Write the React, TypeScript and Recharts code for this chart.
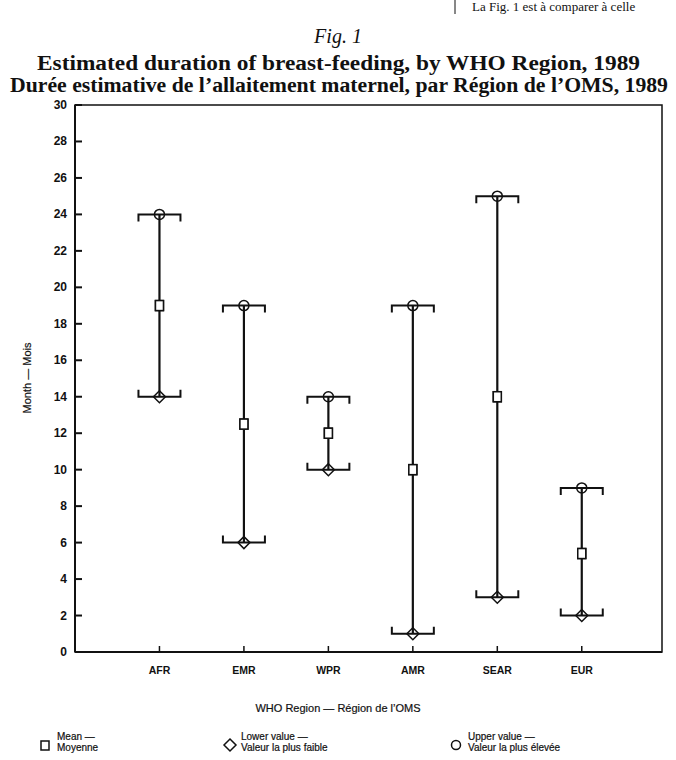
import React from "react";
import { ComposedChart, Scatter, XAxis, YAxis, ErrorBar, ReferenceArea } from "recharts";

const regions = ["AFR", "EMR", "WPR", "AMR", "SEAR", "EUR"];
const meanValues = [19, 12.5, 12, 10, 14, 5.4];
const lowerValues = [14, 6, 10, 1, 3, 2];
const upperValues = [24, 19, 14, 19, 25, 9];
const yTicks = [0, 2, 4, 6, 8, 10, 12, 14, 16, 18, 20, 22, 24, 26, 28, 30];

const rows = regions.map((region, i) => ({
  x: i + 1,
  region,
  mean: meanValues[i],
  lower: lowerValues[i],
  upper: upperValues[i],
  range: [meanValues[i] - lowerValues[i], upperValues[i] - meanValues[i]],
}));

const ink = "#111";
const sans = "'Liberation Sans', Arial, Helvetica, sans-serif";
const serif = "'Liberation Serif', 'Times New Roman', serif";

const UpperMark = (p: any) => {
  const { cx, cy } = p;
  return (
    <g>
      <path d={`M${cx - 21},${cy + 7}V${cy}H${cx + 21}V${cy + 7}`} fill="none" stroke={ink} strokeWidth={2} />
      <circle cx={cx} cy={cy} r={5} fill="none" stroke={ink} strokeWidth={1.5} />
    </g>
  );
};

const LowerMark = (p: any) => {
  const { cx, cy } = p;
  return (
    <g>
      <path d={`M${cx - 21},${cy - 7}V${cy}H${cx + 21}V${cy - 7}`} fill="none" stroke={ink} strokeWidth={2} />
      <path d={`M${cx},${cy - 6}L${cx + 6},${cy}L${cx},${cy + 6}L${cx - 6},${cy}Z`} fill="none" stroke={ink} strokeWidth={1.5} />
    </g>
  );
};

const MeanMark = (p: any) => {
  const { cx, cy } = p;
  return <rect x={cx - 4} y={cy - 5} width={8} height={10} fill="#fff" stroke={ink} strokeWidth={1.5} />;
};

const YTick = (p: any) => {
  const { x, y, payload } = p;
  return (
    <g>
      <line x1={x} y1={y} x2={x + 7} y2={y} stroke={ink} strokeWidth={2} />
      <text x={x - 8} y={y + 4} textAnchor="end" fontFamily={sans} fontWeight="bold" fontSize={12} fill={ink}>
        {payload.value}
      </text>
    </g>
  );
};

const XTick = (p: any) => {
  const { x, y, payload } = p;
  return (
    <g>
      <line x1={x} y1={y} x2={x} y2={y - 6} stroke={ink} strokeWidth={1.5} />
      <text x={x} y={y + 22} textAnchor="middle" fontFamily={sans} fontWeight="bold" fontSize={10.5} fill={ink}>
        {regions[payload.value - 1]}
      </text>
    </g>
  );
};

export default function App() {
  return (
    <div style={{ position: "absolute", left: 0, top: 0, width: 676, height: 760, background: "#fff", overflow: "hidden" }}>
      <ComposedChart width={676} height={760} data={rows} margin={{ top: 105, right: 14, bottom: 78, left: 35 }}>
        <XAxis
          type="number"
          dataKey="x"
          domain={[0, 6.95]}
          ticks={[1, 2, 3, 4, 5, 6]}
          tickSize={0}
          tickMargin={0}
          height={30}
          tick={<XTick />}
          axisLine={{ stroke: ink, strokeWidth: 2 }}
          tickLine={false}
        />
        <YAxis
          type="number"
          domain={[0, 30]}
          ticks={yTicks}
          tickSize={0}
          tickMargin={0}
          width={40}
          tick={<YTick />}
          axisLine={{ stroke: ink, strokeWidth: 2 }}
          tickLine={false}
          interval={0}
        />
        <ReferenceArea x1={0} x2={6.95} y1={0} y2={30} fill="none" stroke={ink} strokeWidth={1.5} />
        <Scatter dataKey="mean" shape={<MeanMark />} isAnimationActive={false}>
          <ErrorBar dataKey="range" direction="y" width={0} stroke={ink} strokeWidth={2.2} />
        </Scatter>
        <Scatter dataKey="upper" shape={<UpperMark />} isAnimationActive={false} />
        <Scatter dataKey="lower" shape={<LowerMark />} isAnimationActive={false} />
        <Scatter dataKey="mean" shape={<MeanMark />} isAnimationActive={false} />
      </ComposedChart>

      <svg width={676} height={760} style={{ position: "absolute", left: 0, top: 0, pointerEvents: "none" }}>
        {/* fragment of the page text above the figure */}
        <line x1={455} y1={0} x2={455} y2={14} stroke={ink} strokeWidth={1} />
        <text x={472} y={11} fontFamily={serif} fontSize={13} fill={ink}>
          La Fig. 1 est à comparer à celle
        </text>

        <text x={338} y={43} textAnchor="middle" fontFamily={serif} fontStyle="italic" fontSize={20} fill={ink}>
          Fig. 1
        </text>
        <text x={37} y={70} textLength={603} lengthAdjust="spacingAndGlyphs" fontFamily={serif} fontWeight="bold" fontSize={20} fill={ink}>
          Estimated duration of breast-feeding, by WHO Region, 1989
        </text>
        <text x={10} y={92} textLength={658} lengthAdjust="spacingAndGlyphs" fontFamily={serif} fontWeight="bold" fontSize={20} fill={ink}>
          Durée estimative de l’allaitement maternel, par Région de l’OMS, 1989
        </text>

        <text x={0} y={0} transform="translate(31,378) rotate(-90)" textAnchor="middle" fontFamily={sans} fontSize={11} fill={ink} stroke={ink} strokeWidth={0.2}>
          Month — Mois
        </text>

        <text x={338} y={712} textAnchor="middle" fontFamily={sans} fontSize={11} fill={ink} stroke={ink} strokeWidth={0.2}>
          WHO Region — Région de l’OMS
        </text>

        <g fontFamily={sans} fontSize={10} fill={ink} stroke={ink} strokeWidth={0.2}>
          <text x={57} y={740}>Mean —</text>
          <text x={57} y={751}>Moyenne</text>
          <text x={241} y={740}>Lower value —</text>
          <text x={241} y={751}>Valeur la plus faible</text>
          <text x={468} y={740}>Upper value —</text>
          <text x={468} y={751}>Valeur la plus élevée</text>
        </g>
        <rect x={41} y={741} width={8} height={9} fill="#fff" stroke={ink} strokeWidth={1.5} />
        <path d="M230,739L236,745L230,751L224,745Z" fill="none" stroke={ink} strokeWidth={1.5} />
        <circle cx={456} cy={745} r={4.5} fill="none" stroke={ink} strokeWidth={1.5} />
      </svg>
    </div>
  );
}
